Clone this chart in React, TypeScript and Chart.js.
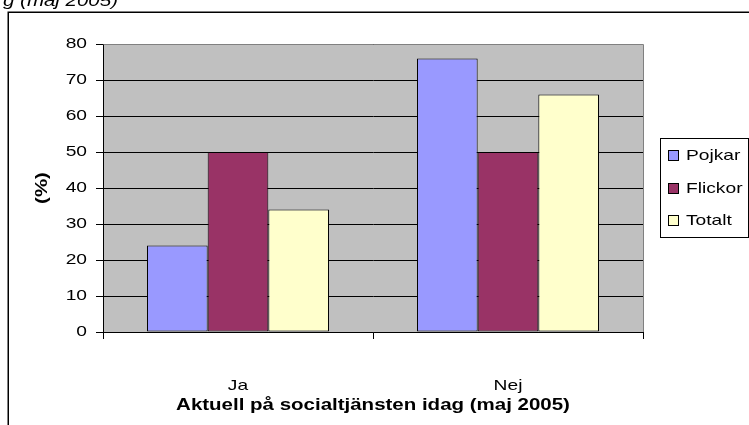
import React, { useEffect, useRef } from "react";
import { Chart, registerables } from "chart.js";

Chart.register(...registerables);

const categories = ["Ja", "Nej"];
const seriesNames = ["Pojkar", "Flickor", "Totalt"];
const pojkar = [24, 76];
const flickor = [50, 50];
const totalt = [34, 66];
const seriesColors = ["#9999FF", "#993366", "#FFFFCC"];
const yMin = 0;
const yMax = 80;
const yStep = 10;
const xTitle = "Aktuell på socialtjänsten idag (maj 2005)";
const yTitle = "(%)";
const caption = "g (maj 2005)";

const FONT = "'Liberation Sans', Arial, sans-serif";
const STRETCH = 1.28;

const plotBg = {
  id: "plotBg",
  beforeDraw(chart: any) {
    const { ctx, chartArea } = chart;
    ctx.save();
    ctx.fillStyle = "#C0C0C0";
    ctx.fillRect(chartArea.left, chartArea.top, chartArea.right - chartArea.left, chartArea.bottom - chartArea.top);
    ctx.restore();
  },
};

const extras = {
  id: "extras",
  afterDraw(chart: any) {
    const { ctx, chartArea } = chart;
    ctx.save();
    ctx.strokeStyle = "#808080";
    ctx.lineWidth = 1;
    ctx.beginPath();
    ctx.moveTo(Math.round(chartArea.left) + 0.5, Math.round(chartArea.top) + 0.5);
    ctx.lineTo(Math.round(chartArea.right) + 0.5, Math.round(chartArea.top) + 0.5);
    ctx.lineTo(Math.round(chartArea.right) + 0.5, Math.round(chartArea.bottom));
    ctx.stroke();

    ctx.strokeStyle = "#000000";
    ctx.lineWidth = 1.5;
    ctx.beginPath();
    ctx.moveTo(8.25, 440);
    ctx.lineTo(8.25, 12.25);
    ctx.lineTo(760, 12.25);
    ctx.stroke();

    ctx.fillStyle = "#000000";
    ctx.font = "italic 16px " + FONT;
    ctx.textBaseline = "alphabetic";
    ctx.textAlign = "left";
    ctx.fillText(caption, 3, 6);

    const lx = 660.5, ly = 138.5, lw = 88, lh = 99;
    ctx.fillStyle = "#FFFFFF";
    ctx.fillRect(lx, ly, lw, lh);
    ctx.strokeStyle = "#000000";
    ctx.lineWidth = 1;
    ctx.strokeRect(lx, ly, lw, lh);
    const ys = [155, 188, 220];
    chart.data.datasets.forEach((ds: any, i: number) => {
      const cy = ys[i];
      ctx.fillStyle = ds.backgroundColor;
      ctx.fillRect(668, cy - 5, 10, 10);
      ctx.strokeStyle = "#000000";
      ctx.strokeRect(668.5, cy - 4.5, 10, 10);
      ctx.fillStyle = "#000000";
      ctx.font = "15px " + FONT;
      ctx.textBaseline = "middle";
      ctx.textAlign = "left";
      ctx.fillText(ds.label, 686, cy + 0.5);
    });
    ctx.restore();
  },
};

function stretchText(ctx: any) {
  if (ctx.__stretched) return;
  ctx.__stretched = true;
  const orig = ctx.fillText.bind(ctx);
  ctx.fillText = function (text: string, x: number, y: number, maxWidth?: number) {
    ctx.save();
    ctx.translate(x, y);
    ctx.scale(STRETCH, 1);
    if (maxWidth !== undefined && maxWidth !== null) orig(text, 0, 0, maxWidth);
    else orig(text, 0, 0);
    ctx.restore();
  };
}

export default function App() {
  const ref = useRef<HTMLCanvasElement | null>(null);
  useEffect(() => {
    if (!ref.current) return;
    const ctx2d = ref.current.getContext("2d");
    stretchText(ctx2d);
    const series = [pojkar, flickor, totalt];
    const chart = new Chart(ref.current, {
      type: "bar",
      data: {
        labels: categories,
        datasets: series.map((d, i) => ({
          label: seriesNames[i],
          data: d,
          backgroundColor: seriesColors[i],
          borderColor: "#000000",
          borderWidth: 1,
          borderSkipped: false,
          categoryPercentage: 0.674,
          barPercentage: 1.0,
        })),
      },
      options: {
        animation: false,
        responsive: false,
        devicePixelRatio: 1,
        layout: { padding: { left: 0, top: 44, right: 106, bottom: 0 } },
        plugins: { legend: { display: false }, tooltip: { enabled: false }, title: { display: false } },
        scales: {
          x: {
            offset: true,
            grid: { display: true, drawOnChartArea: false, drawTicks: true, tickLength: 7, color: "#000000", offset: true },
            border: { display: true, color: "#000000", width: 1 },
            ticks: { color: "#000000", font: { family: FONT, size: 15 }, padding: 38 },
            title: { display: true, text: xTitle, color: "#000000", font: { family: FONT, size: 16, weight: "bold" }, padding: { top: 0, bottom: 10 } },
            afterFit(scale: any) { scale.height = 93; },
          },
          y: {
            min: yMin,
            max: yMax,
            ticks: { stepSize: yStep, color: "#000000", font: { family: FONT, size: 15 }, padding: 9 },
            grid: { color: "#000000", lineWidth: 1, tickLength: 7, tickColor: "#000000" },
            border: { display: true, color: "#000000", width: 1 },
            title: { display: true, text: yTitle, color: "#000000", font: { family: FONT, size: 16, weight: "bold" }, padding: { top: 33, bottom: 0 } },
            afterFit(scale: any) { scale.width = 103; },
          },
        },
      },
      plugins: [plotBg, extras],
    });
    return () => chart.destroy();
  }, []);
  return (
    <div style={{ position: "absolute", left: 0, top: 0, width: 749, height: 425 }}>
      <canvas ref={ref} width={749} height={425} />
    </div>
  );
}
